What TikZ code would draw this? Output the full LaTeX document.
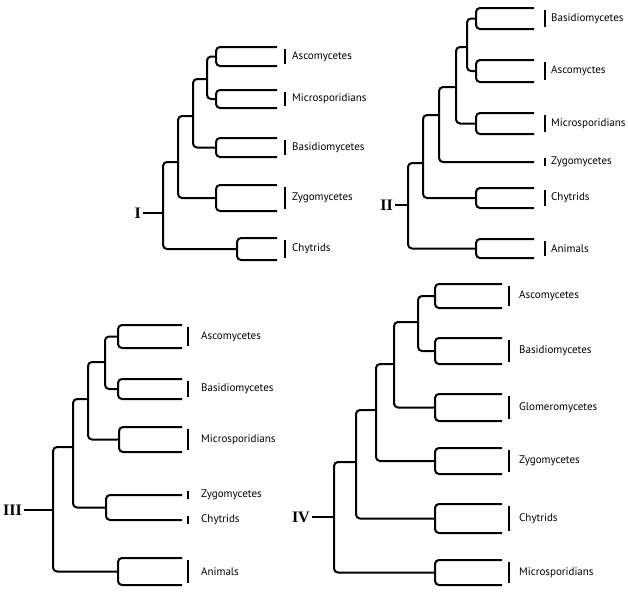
\documentclass[tikz,border=0pt]{standalone}
\usepackage{fontspec}
\setmainfont{PT Sans}
\newfontfamily\numfont{Liberation Serif}
\usepackage{tikz}
\usetikzlibrary{positioning}

\tikzset{
  branch/.style={line width=2pt, rounded corners=4pt},
  tick/.style={line width=2pt},
  taxon/.style={anchor=west, inner sep=0pt, font=\fontsize{11}{13}\selectfont},
  numeral/.style={left, inner sep=2pt, font=\numfont\bfseries\fontsize{16}{18}\selectfont}
}

% a pair of tips joined by a bracket, with its bar and label
\newcommand{\leafpair}[5]{%
  \coordinate (#1) at (#2,{(#3+#4)/2});
  \coordinate (#1-top) at (\tipx,#3);
  \coordinate (#1-bot) at (\tipx,#4);
  \draw[branch] (#1-top) -| (#1) |- (#1-bot);
  \draw[tick] (\barx,#3+2) -- (\barx,#4-2);
  \node[taxon] (#1-lab) at (\labx,{(#3+#4)/2}) {#5};
}
% a single tip with a short bar and label
\newcommand{\singleleaf}[3]{%
  \coordinate (#1) at (\tipx,#2);
  \draw[tick] (\barx,#2-4) -- (\barx,#2+4);
  \node[taxon] (#1-lab) at (\labx,#2) {#3};
}

\begin{document}
\begin{tikzpicture}[x=1pt,y=-1pt]
    \useasboundingbox (0,0) rectangle (628,592);

    % Tree I
    \def\tipx{277}\def\barx{285}\def\labx{292}
    \leafpair{ascI}{216}{47}{66}{Ascomycetes}
    \leafpair{micI}{216}{90}{108}{Microsporidians}
    \leafpair{basI}{216}{138}{157}{Basidiomycetes}
    \leafpair{zygI}{216}{185}{211}{Zygomycetes}
    \leafpair{chyI}{237}{238}{260}{Chytrids}
    \coordinate (cI) at (207,79);
    \coordinate (bI) at (193,116);
    \coordinate (aI) at (178,162);
    \coordinate (rI) at (163,213);
    \draw[branch] (ascI) -| (cI) |- (micI);
    \draw[branch] (cI) -| (bI) |- (basI);
    \draw[branch] (bI) -| (aI) |- (zygI);
    \draw[branch] (aI) -| (rI) |- (chyI);
    \node[numeral] (nI) at (143,213) {I};
    \draw[branch] (nI) -- (rI);

    % Tree II
    \def\tipx{534}\def\barx{545}\def\labx{551}
    \leafpair{basII}{476}{8}{29}{Basidiomycetes}
    \leafpair{ascII}{476}{60}{82}{Ascomyctes}
    \leafpair{micII}{476}{113}{134}{Microsporidians}
    \singleleaf{zygII}{162}{Zygomycetes}
    \leafpair{chyII}{476}{188}{208}{Chytrids}
    \leafpair{aniII}{476}{239}{258}{Animals}
    \coordinate (gII) at (467,47);
    \coordinate (fII) at (456,87);
    \coordinate (eII) at (439,115);
    \coordinate (dII) at (423,163);
    \coordinate (rII) at (408,205);
    \draw[branch] (basII) -| (gII) |- (ascII);
    \draw[branch] (gII) -| (fII) |- (micII);
    \draw[branch] (fII) -| (eII) |- (zygII);
    \draw[branch] (eII) -| (dII) |- (chyII);
    \draw[branch] (dII) -| (rII) |- (aniII);
    \node[numeral] (nII) at (395,205) {II};
    \draw[branch] (nII) -- (rII);

    % Tree III
    \def\tipx{182}\def\barx{188}\def\labx{201}
    \leafpair{ascIII}{118}{325}{348}{Ascomycetes}
    \leafpair{basIII}{118}{379}{399}{Basidiomycetes}
    \leafpair{micIII}{119}{427}{452}{Microsporidians}
    \singleleaf{zygIII}{495}{Zygomycetes}
    \singleleaf{chyIII}{520}{Chytrids}
    \leafpair{aniIII}{118}{558}{585}{Animals}
    \coordinate (zcIII) at (106,507.5);
    \coordinate (jIII) at (105,362);
    \coordinate (iIII) at (88,399);
    \coordinate (hIII) at (73,447);
    \coordinate (rIII) at (53,510);
    \draw[branch] (zygIII) -| (zcIII) |- (chyIII);
    \draw[branch] (ascIII) -| (jIII) |- (basIII);
    \draw[branch] (jIII) -| (iIII) |- (micIII);
    \draw[branch] (iIII) -| (hIII) |- (zcIII);
    \draw[branch] (hIII) -| (rIII) |- (aniIII);
    \node[numeral] (nIII) at (24,510) {III};
    \draw[branch] (nIII) -- (rIII);

    % Tree IV
    \def\tipx{502}\def\barx{509}\def\labx{519}
    \leafpair{ascIV}{435}{284}{308}{Ascomycetes}
    \leafpair{basIV}{435}{338}{364}{Basidiomycetes}
    \leafpair{gloIV}{435}{394}{421}{Glomeromycetes}
    \leafpair{zygIV}{435}{448}{474}{Zygomycetes}
    \leafpair{chyIV}{435}{504}{533}{Chytrids}
    \leafpair{micIV}{435}{560}{585}{Microsporidians}
    \coordinate (nnIV) at (418,322);
    \coordinate (mIV) at (394,364);
    \coordinate (lIV) at (376,410);
    \coordinate (kIV) at (356,462);
    \coordinate (rIV) at (334,517);
    \draw[branch] (ascIV) -| (nnIV) |- (basIV);
    \draw[branch] (nnIV) -| (mIV) |- (gloIV);
    \draw[branch] (mIV) -| (lIV) |- (zygIV);
    \draw[branch] (lIV) -| (kIV) |- (chyIV);
    \draw[branch] (kIV) -| (rIV) |- (micIV);
    \node[numeral] (nIV) at (312,517) {IV};
    \draw[branch] (nIV) -- (rIV);

\end{tikzpicture}
\end{document}
